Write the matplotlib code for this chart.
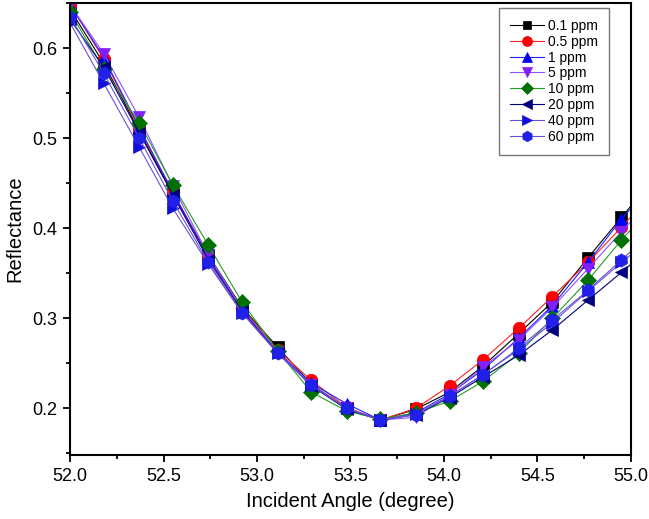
import matplotlib
matplotlib.use("Agg")
import matplotlib.pyplot as plt
from matplotlib.ticker import MultipleLocator

plt.rcParams["font.family"] = ["Liberation Sans", "DejaVu Sans"]

# incident angle (degree); last point lies just past the axis and is clipped
angle = [52.00, 52.18, 52.37, 52.55, 52.74, 52.92, 53.11, 53.29, 53.48,
         53.66, 53.85, 54.03, 54.21, 54.40, 54.58, 54.77, 54.95, 55.14]

labels = ["0.1 ppm", "0.5 ppm", "1 ppm", "5 ppm", "10 ppm", "20 ppm", "40 ppm", "60 ppm"]

r_01 = [0.643, 0.583, 0.508, 0.438, 0.370, 0.312, 0.268, 0.227, 0.200,
        0.187, 0.199, 0.218, 0.247, 0.283, 0.318, 0.367, 0.412, 0.460]
r_05 = [0.648, 0.588, 0.510, 0.440, 0.368, 0.311, 0.265, 0.231, 0.201,
        0.187, 0.200, 0.225, 0.254, 0.289, 0.324, 0.362, 0.401, 0.445]
r_1 = [0.648, 0.590, 0.512, 0.440, 0.367, 0.310, 0.263, 0.228, 0.205,
       0.187, 0.195, 0.216, 0.243, 0.278, 0.314, 0.362, 0.410, 0.455]
r_5 = [0.648, 0.594, 0.523, 0.447, 0.370, 0.310, 0.263, 0.226, 0.200,
       0.187, 0.190, 0.215, 0.246, 0.276, 0.312, 0.355, 0.396, 0.440]
r_10 = [0.640, 0.577, 0.517, 0.448, 0.381, 0.318, 0.264, 0.218, 0.197,
        0.188, 0.195, 0.208, 0.230, 0.261, 0.300, 0.342, 0.387, 0.430]
r_20 = [0.632, 0.579, 0.506, 0.437, 0.365, 0.308, 0.262, 0.225, 0.199,
        0.187, 0.193, 0.212, 0.235, 0.259, 0.287, 0.320, 0.351, 0.385]
r_40 = [0.628, 0.561, 0.490, 0.422, 0.360, 0.306, 0.262, 0.226, 0.200,
        0.187, 0.194, 0.213, 0.238, 0.265, 0.295, 0.330, 0.362, 0.395]
r_60 = [0.635, 0.572, 0.500, 0.430, 0.362, 0.306, 0.261, 0.226, 0.200,
        0.187, 0.193, 0.214, 0.237, 0.267, 0.298, 0.331, 0.365, 0.400]

series = [r_01, r_05, r_1, r_5, r_10, r_20, r_40, r_60]
markers = ["s", "o", "^", "v", "D", "<", ">", "h"]
line_colors = ["black", "#ff2020", "#2020ff", "#9050ff", "#20a020", "#000080", "#6a50d8", "#6a50d8"]
marker_colors = ["black", "#ff0000", "#0000ff", "#8020ff", "#007000", "#000080", "#1010d8", "#2020e8"]
msizes = [8, 9, 9, 9, 8, 9, 9, 9.5]

fig = plt.figure(figsize=(6.49, 5.19), dpi=100)
ax = fig.add_axes([0.108, 0.123, 0.864, 0.871])

for ys, lab, m, lc, mc, ms in zip(series, labels, markers, line_colors, marker_colors, msizes):
    ax.plot(angle, ys, color=lc, linewidth=0.8, marker=m, markersize=ms,
            markerfacecolor=mc, markeredgecolor=mc, markeredgewidth=0.5, label=lab)

ax.set_xlim(52.0, 55.0)
ax.set_ylim(0.148, 0.65)
ax.xaxis.set_major_locator(MultipleLocator(0.5))
ax.xaxis.set_minor_locator(MultipleLocator(0.25))
ax.yaxis.set_major_locator(MultipleLocator(0.1))
ax.yaxis.set_minor_locator(MultipleLocator(0.05))
ax.xaxis.set_major_formatter(plt.FormatStrFormatter("%.1f"))
ax.yaxis.set_major_formatter(plt.FormatStrFormatter("%.1f"))

for s in ax.spines.values():
    s.set_linewidth(1.5)
ax.tick_params(which="both", direction="out", top=False, right=False, width=1.3)
ax.tick_params(which="major", length=5, labelsize=13, pad=4)
ax.tick_params(which="minor", length=3)

ax.set_xlabel("Incident Angle (degree)", fontsize=14.5, labelpad=5)
ax.set_ylabel("Reflectance", fontsize=14.5, labelpad=6)

leg = ax.legend(loc="upper right", bbox_to_anchor=(0.9735, 1.005), fontsize=10,
                markerscale=0.8, handlelength=2.4, labelspacing=0.13,
                borderpad=0.8, fancybox=False, framealpha=1, handletextpad=0.3)
leg.get_frame().set_edgecolor("#777777")
leg.get_frame().set_linewidth(1.0)

fig.savefig("out.png", dpi=100)
plt.close(fig)
